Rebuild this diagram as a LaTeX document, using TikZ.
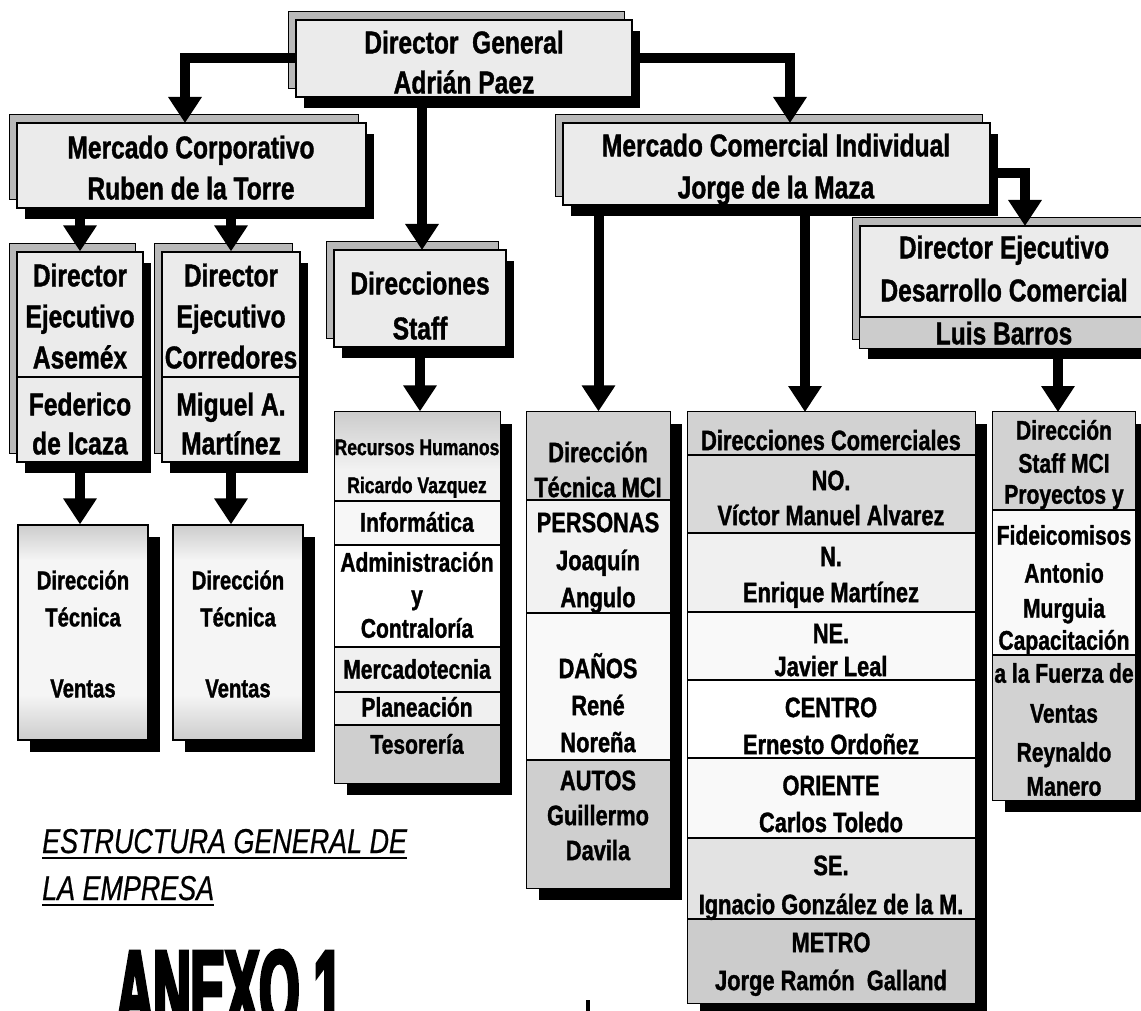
\documentclass[tikz,border=0pt]{standalone}
\usepackage{fontspec}
\setmainfont{Liberation Sans}
\newfontfamily\narrow{Liberation Sans}[FakeStretch=0.78, BoldFeatures={FakeBold=1.2}, ItalicFeatures={FakeBold=0.6}]
\newfontfamily\anexofont{Liberation Sans}[FakeStretch=0.46, BoldFeatures={FakeBold=3}]
\usetikzlibrary{arrows.meta,shadows,fit,calc}
\newcommand\T[5]{\node[anchor=base,inner sep=0pt,font=\narrow\bfseries\fontsize{#4}{#4}\selectfont] (#1) at (#2,{#3+0.36*#4}) {#5};}
\tikzset{
  upbox/.style={draw=black, line width=1.2pt, fill=gray!16, inner sep=0pt,
    general shadow={fill=gray!55, draw=black, line width=0.6pt, shadow xshift=-8pt, shadow yshift=9pt},
    general shadow={fill=black, shadow xshift=8pt, shadow yshift=-11pt}},
  lowbox/.style={draw=black, line width=1.2pt, fill=gray!8, inner sep=0pt,
    general shadow={fill=black, shadow xshift=12pt, shadow yshift=-12pt}},
  arr/.style={line width=10pt, -{Triangle[width=32pt,length=26pt]}},
  divl/.style={line width=1.2pt},
  frame/.style={draw=black, line width=1.2pt}
}
\begin{document}
\begin{tikzpicture}[x=1pt,y=-1pt]
\fill[white] (0,0) rectangle (1141,1011);
\useasboundingbox (0,0) rectangle (1141,1011);

% ---------- upper boxes ----------
\node[upbox, fit={(296,20) (632,97)}] (dg) {};
\node[upbox, fit={(17,123) (366,208)}] (mc) {};
\node[upbox, fit={(563,123) (990,205)}] (mci) {};
\node[upbox, fit={(860,226) (1150,348)}] (dedc) {};
\fill[gray!40] (860,317) rectangle (1150,348);
\draw[divl] (860,317) -- (1150,317);
\draw[frame] (dedc.north west) rectangle (dedc.south east);
\node[upbox, fit={(17,252) (143,462)}] (ase) {};
\draw[divl] (17,377) -- (143,377);
\node[upbox, fit={(162,252) (300,462)}] (cor) {};
\draw[divl] (162,377) -- (300,377);
\node[upbox, fit={(334,250) (506,347)}] (stf) {};

% ---------- lower boxes ----------
\node[lowbox, fit={(18,525) (148,740)}] (dtv1) {};
\node[lowbox, fit={(173,525) (303,740)}] (dtv2) {};
\foreach \a/\b in {18/148,173/303}{
  \shade[top color=gray!40, bottom color=gray!8] (\a,525) rectangle (\b,560);
  \shade[top color=gray!8, bottom color=gray!40] (\a,695) rectangle (\b,740);
  \draw[frame] (\a,525) rectangle (\b,740);
}

\node[lowbox, fit={(335,412) (500,783)}] (sl) {};
\shade[top color=gray!40, bottom color=gray!10] (335,412) rectangle (500,470);
\fill[gray!10] (335,470) rectangle (500,501);
\fill[gray!6] (335,501) rectangle (500,545);
\fill[white] (335,545) rectangle (500,647);
\fill[gray!12] (335,647) rectangle (500,692);
\fill[gray!12] (335,692) rectangle (500,725);
\fill[gray!38] (335,725) rectangle (500,783);
\foreach \y in {501,545,647,692,725} \draw[divl] (335,\y) -- (500,\y);
\draw[frame] (sl.north west) rectangle (sl.south east);

\node[lowbox, fit={(527,412) (670,888)}] (dtm) {};
\fill[gray!35] (527,412) rectangle (670,500);
\fill[gray!10] (527,500) rectangle (670,613);
\fill[gray!5] (527,613) rectangle (670,760);
\fill[gray!38] (527,760) rectangle (670,888);
\foreach \y in {500,613,760} \draw[divl] (527,\y) -- (670,\y);
\draw[frame] (dtm.north west) rectangle (dtm.south east);

\node[lowbox, fit={(688,412) (975,1003)}] (dc) {};
\fill[gray!35] (688,412) rectangle (975,455);
\fill[gray!30] (688,455) rectangle (975,533);
\fill[gray!12] (688,533) rectangle (975,612);
\fill[gray!5] (688,612) rectangle (975,680);
\fill[white] (688,680) rectangle (975,758);
\fill[gray!5] (688,758) rectangle (975,838);
\fill[gray!22] (688,838) rectangle (975,919);
\fill[gray!40] (688,919) rectangle (975,1003);
\foreach \y in {455,533,612,680,758,838,919} \draw[divl] (688,\y) -- (975,\y);
\draw[frame] (dc.north west) rectangle (dc.south east);

\node[lowbox, fit={(993,412) (1135,800)}] (smci) {};
\fill[gray!35] (993,412) rectangle (1135,510);
\fill[gray!5] (993,510) rectangle (1135,655);
\fill[gray!35] (993,655) rectangle (1135,800);
\foreach \y in {510,655} \draw[divl] (993,\y) -- (1135,\y);
\draw[frame] (smci.north west) rectangle (smci.south east);

% ---------- connectors ----------
\coordinate (mcin) at (185,123);
\coordinate (mciin) at (790,123);
\coordinate (stfin) at (422,250);
\coordinate (dedcin) at (1025,226);
\coordinate (dcin) at (805,412);
\coordinate (smciin) at (1058,412);
\draw[arr] (dg.west) -| (mcin);
\draw[arr] (dg.east) -| (mciin);
\draw[arr] (dg.south -| stfin) -- (stfin);
\draw[arr] (mc.south -| ase.north) -- (ase.north);
\draw[arr] (mc.south -| cor.north) -- (cor.north);
\draw[arr] (ase.south) -- (ase.south |- dtv1.north);
\draw[arr] (cor.south) -- (cor.south |- dtv2.north);
\draw[arr] (stf.south) -- (stf.south |- sl.north);
\draw[arr] ([yshift=-9pt]mci.east) -| (dedcin);
\draw[arr] (mci.south -| dtm.north) -- (dtm.north);
\draw[arr] (mci.south -| dcin) -- (dcin);
\draw[arr] (dedc.south -| smciin) -- (smciin);

% ---------- texts ----------
\T{dg1}{464}{42}{31.5}{Director\ \ General}
\T{dg2}{464}{82}{31.5}{Adrián Paez}
\T{mc1}{191}{147}{31.5}{Mercado Corporativo}
\T{mc2}{191}{188}{31.5}{Ruben de la Torre}
\T{mci1}{776}{145}{31.5}{Mercado Comercial Individual}
\T{mci2}{776}{187}{31.5}{Jorge de la Maza}
\T{de1}{1004}{247}{31.5}{Director Ejecutivo}
\T{de2}{1004}{290}{31.5}{Desarrollo Comercial}
\T{de3}{1004}{333}{31.5}{Luis Barros}
\T{as1}{80}{275}{31.5}{Director}
\T{as2}{80}{316}{31.5}{Ejecutivo}
\T{as3}{80}{357}{31.5}{Aseméx}
\T{as4}{80}{404}{31.5}{Federico}
\T{as5}{80}{443}{31.5}{de Icaza}
\T{co1}{231}{275}{31.5}{Director}
\T{co2}{231}{316}{31.5}{Ejecutivo}
\T{co3}{231}{357}{31.5}{Corredores}
\T{co4}{231}{404}{31.5}{Miguel A.}
\T{co5}{231}{443}{31.5}{Martínez}
\T{st1}{420}{283}{31.5}{Direcciones}
\T{st2}{420}{328}{31.5}{Staff}
\T{v11}{83}{580}{26}{Dirección}
\T{v12}{83}{617}{26}{Técnica}
\T{v13}{83}{688}{26}{Ventas}
\T{v21}{238}{580}{26}{Dirección}
\T{v22}{238}{617}{26}{Técnica}
\T{v23}{238}{688}{26}{Ventas}
\T{sl1}{417}{447}{22.5}{Recursos Humanos}
\T{sl2}{417}{485}{22.5}{Ricardo Vazquez}
\T{sl3}{417}{522}{27}{Informática}
\T{sl4}{417}{562}{27}{Administración}
\T{sl5}{417}{595}{27}{y}
\T{sl6}{417}{628}{27}{Contraloría}
\T{sl7}{417}{669}{27}{Mercadotecnia}
\T{sl8}{417}{707}{27}{Planeación}
\T{sl9}{417}{744}{27}{Tesorería}
\T{dt1}{598}{452}{28}{Dirección}
\T{dt2}{598}{487}{28}{Técnica MCI}
\T{dt3}{598}{522}{28}{PERSONAS}
\T{dt4}{598}{560}{28}{Joaquín}
\T{dt5}{598}{597}{28}{Angulo}
\T{dt6}{598}{668}{28}{DAÑOS}
\T{dt7}{598}{705}{28}{René}
\T{dt8}{598}{742}{28}{Noreña}
\T{dt9}{598}{780}{28}{AUTOS}
\T{dt10}{598}{815}{28}{Guillermo}
\T{dt11}{598}{850}{28}{Davila}
\T{dc1}{831}{440}{28}{Direcciones Comerciales}
\T{dc2}{831}{480}{28}{NO.}
\T{dc3}{831}{515}{28}{Víctor Manuel Alvarez}
\T{dc4}{831}{556}{28}{N.}
\T{dc5}{831}{592}{28}{Enrique Martínez}
\T{dc6}{831}{633}{28}{NE.}
\T{dc7}{831}{666}{28}{Javier Leal}
\T{dc8}{831}{707}{28}{CENTRO}
\T{dc9}{831}{744}{28}{Ernesto Ordoñez}
\T{dc10}{831}{785}{28}{ORIENTE}
\T{dc11}{831}{822}{28}{Carlos Toledo}
\T{dc12}{831}{865}{28}{SE.}
\T{dc13}{831}{904}{28}{Ignacio González de la M.}
\T{dc14}{831}{942}{28}{METRO}
\T{dc15}{831}{980}{28}{Jorge Ramón\ \ Galland}
\T{sm1}{1064}{430}{27}{Dirección}
\T{sm2}{1064}{463}{27}{Staff MCI}
\T{sm3}{1064}{494}{27}{Proyectos y}
\T{sm4}{1064}{535}{27}{Fideicomisos}
\T{sm5}{1064}{573}{27}{Antonio}
\T{sm6}{1064}{608}{27}{Murguia}
\T{sm7}{1064}{640}{27}{Capacitación}
\T{sm8}{1064}{673}{27}{a la Fuerza de}
\T{sm9}{1064}{713}{27}{Ventas}
\T{sm10}{1064}{752}{27}{Reynaldo}
\T{sm11}{1064}{786}{27}{Manero}

% ---------- title ----------
\node[anchor=base west, inner sep=0pt, font=\narrow\itshape\fontsize{34.5}{34.5}\selectfont] (tit1) at (42,853) {ESTRUCTURA GENERAL DE};
\draw[line width=2.5pt] ([yshift=-5pt]tit1.base west) -- ([yshift=-5pt]tit1.base east);
\node[anchor=base west, inner sep=0pt, font=\narrow\itshape\fontsize{34.5}{34.5}\selectfont] (tit2) at (42,900) {LA EMPRESA};
\draw[line width=2.5pt] ([yshift=-5pt]tit2.base west) -- ([yshift=-5pt]tit2.base east);
\node[anchor=north west, inner sep=0pt, font=\anexofont\bfseries\fontsize{112}{112}\selectfont] (anexo) at (116,950) {ANEXO 1};
\draw[line width=4pt] (588,1000) -- (588,1011);
\end{tikzpicture}
\end{document}
